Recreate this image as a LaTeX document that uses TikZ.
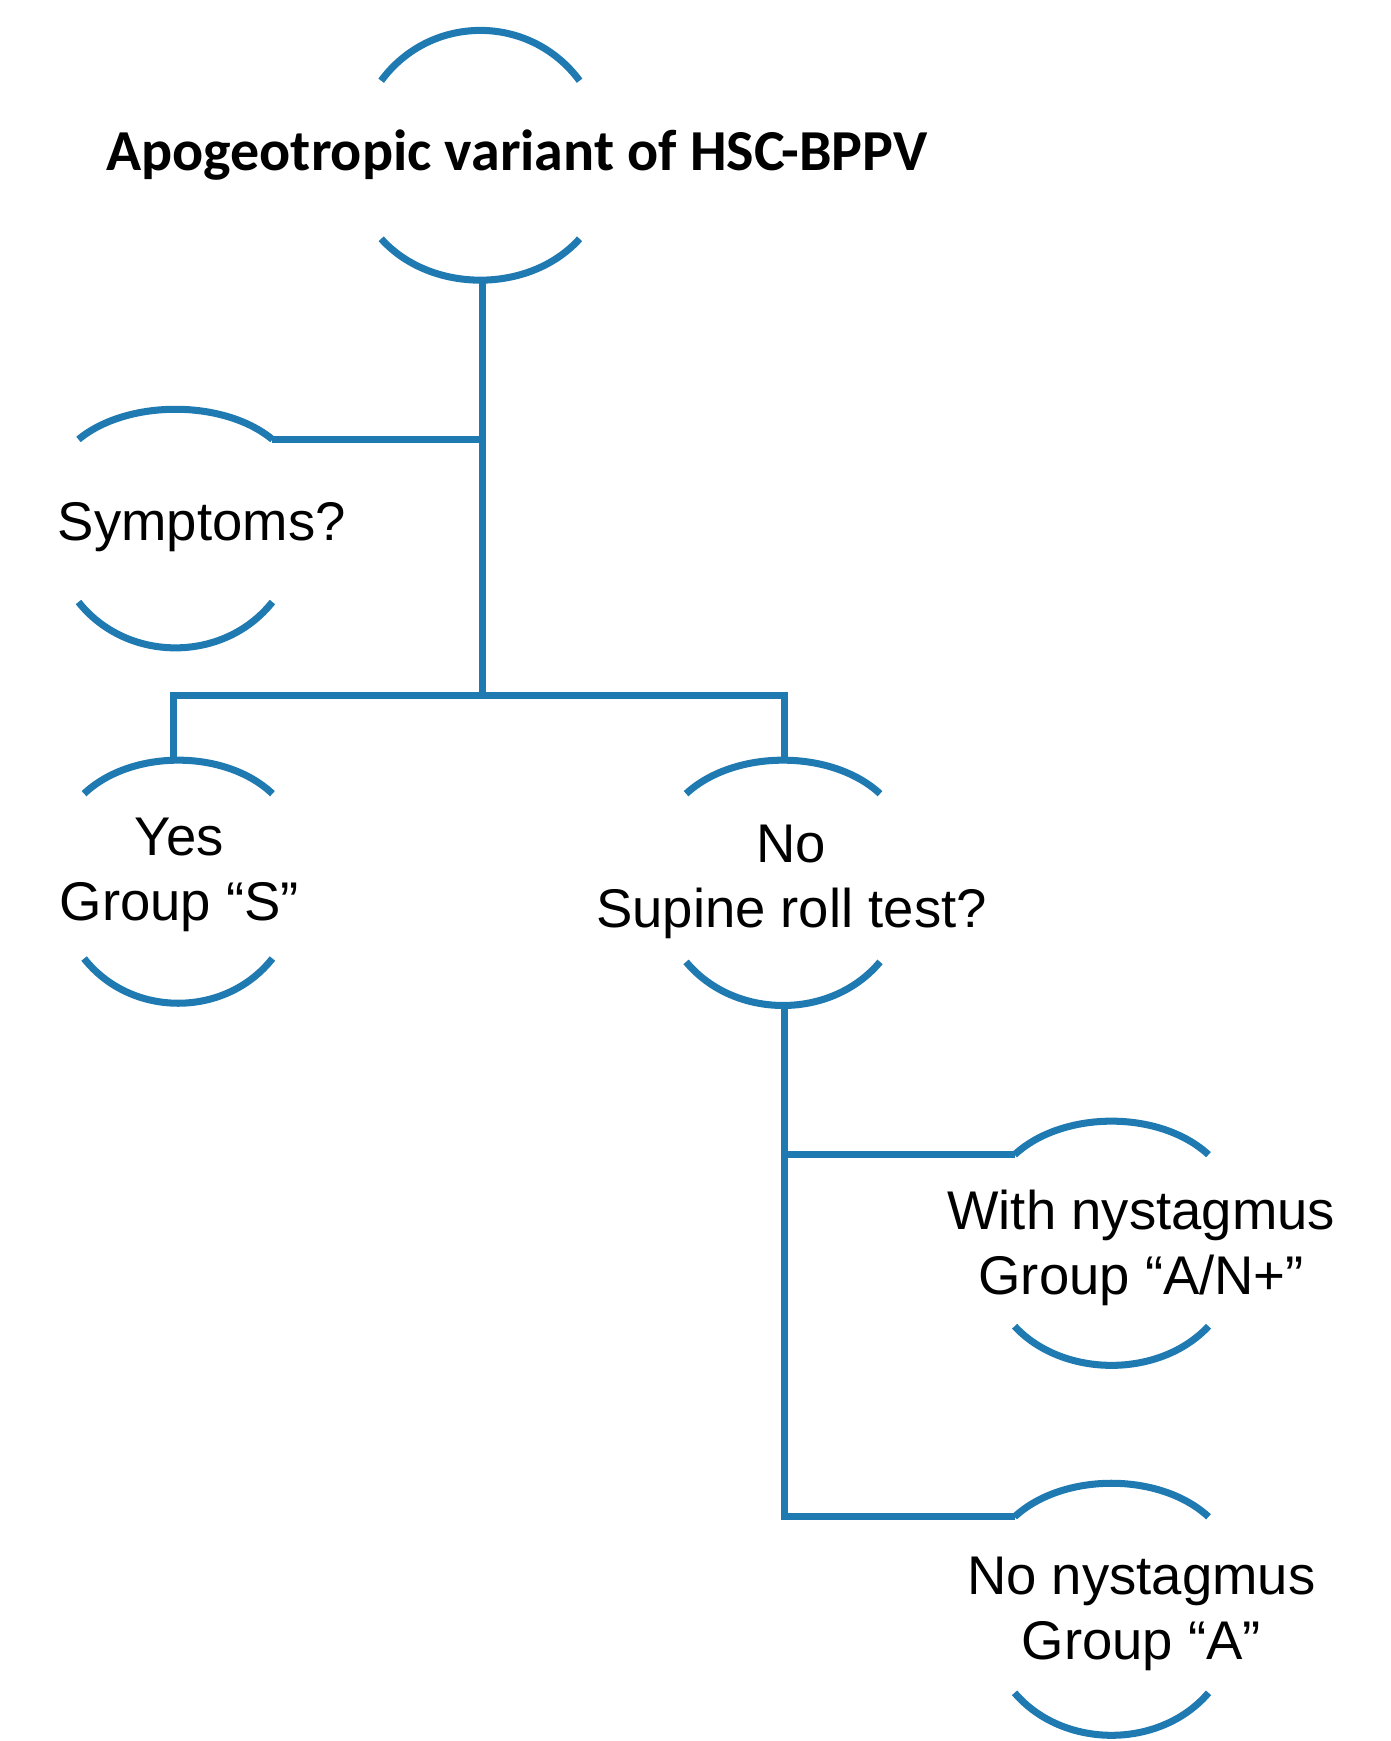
\documentclass[tikz,border=0pt]{standalone}
\usepackage{fontspec}
\setmainfont{Liberation Sans}
\newfontfamily\titlefont{Carlito}
\definecolor{arcblue}{RGB}{32,122,178}
\begin{document}
\begin{tikzpicture}[x=0.02242cm,y=-0.02242cm,
  ln/.style={draw=arcblue,line width=4pt},
  lbl/.style={font=\fontsize{31}{37}\selectfont,align=center,inner sep=0pt}]
\useasboundingbox (0,0) rectangle (1240,1553);
% arcs: top (x1,x2,yend,ytop), bottom
\newcommand{\toparc}[4]{\draw[ln] (#1,#3) .. controls ({#1+(#2-#1)*0.25},{#4-(#3-#4)*0.33}) and ({#2-(#2-#1)*0.25},{#4-(#3-#4)*0.33}) .. (#2,#3);}
\newcommand{\botarc}[4]{\draw[ln] (#1,#3) .. controls ({#1+(#2-#1)*0.25},{#4+(#4-#3)*0.33}) and ({#2-(#2-#1)*0.25},{#4+(#4-#3)*0.33}) .. (#2,#3);}
% title
\toparc{340}{517}{72}{27}
\node[inner sep=0pt,font=\titlefont\bfseries\fontsize{33}{40}\selectfont] (title) at (461,138) {Apogeotropic variant of HSC-BPPV};
\botarc{340}{517}{213}{250}
\coordinate (t0) at (430,250);
% symptoms
\toparc{70}{243}{392}{365}
\node[lbl] (sym) at (180,470) {Symptoms?};
\botarc{70}{243}{537}{578}
\coordinate (s0) at (243,392);
\coordinate (j1) at (430,392);
\coordinate (j2) at (430,620);
% yes
\toparc{75}{243}{708}{678}
\node[lbl] (yes) at (160,780) {Yes\\Group “S”};
\botarc{75}{243}{855}{895}
\coordinate (y0) at (155,681);
\coordinate (yc) at (155,620);
% no
\toparc{612}{785}{708}{678}
\node[lbl] (no) at (706,787) {No\\Supine roll test?};
\botarc{612}{785}{858}{897}
\coordinate (n0) at (700,681);
\coordinate (nc) at (700,620);
\coordinate (n1) at (700,897);
\coordinate (k1) at (700,1030);
\coordinate (k2) at (700,1353);
% with
\toparc{905}{1078}{1030}{1000}
\node[lbl] (with) at (1018,1113) {With nystagmus\\Group “A/N+”};
\botarc{905}{1078}{1183}{1218}
\coordinate (w0) at (905,1030);
% none
\toparc{905}{1078}{1353}{1323}
\node[lbl] (none) at (1018,1440) {No nystagmus\\Group “A”};
\botarc{905}{1078}{1510}{1548}
\coordinate (a0) at (905,1353);
% connectors
\draw[ln] (t0) -- (j2);
\draw[ln] (j1) -- (s0);
\draw[ln,line join=miter] (y0) -- (yc) -- (nc) -- (n0);
\draw[ln,line join=miter] (n1) -- (k2) -- (a0);
\draw[ln] (k1) -- (w0);
\end{tikzpicture}
\end{document}
